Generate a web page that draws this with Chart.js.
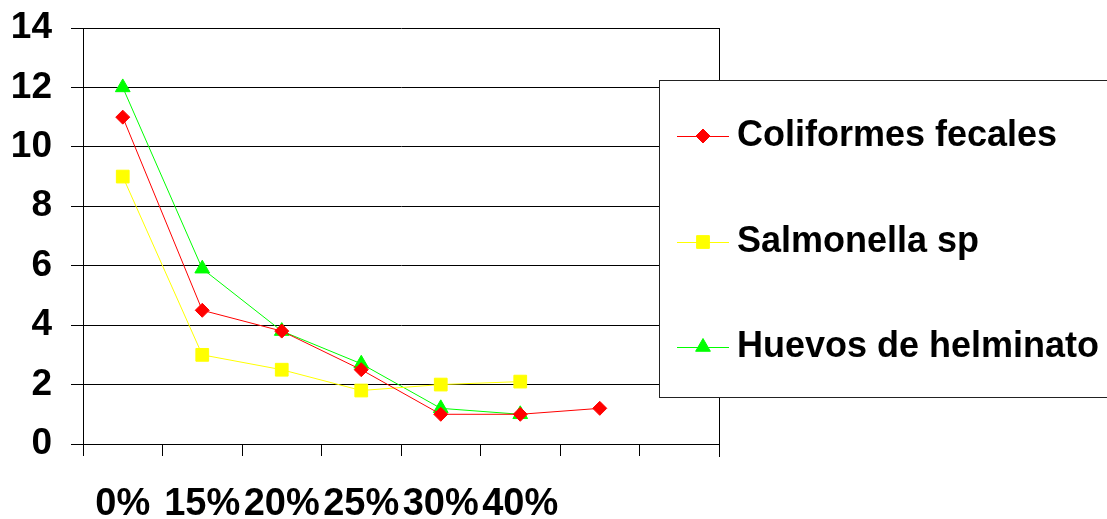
<!DOCTYPE html>
<html>
<head>
<meta charset="utf-8">
<script src="https://cdn.jsdelivr.net/npm/chart.js@4.4.0/dist/chart.umd.min.js"></script>
<style>
    body { margin: 0; background: #fff; }
    #wrap { width: 1107px; height: 519px; position: relative; }
</style>
</head>
<body>
<div id="wrap"><canvas id="chart"></canvas></div>
<script>
const categories = ['0%', '15%', '20%', '25%', '30%', '40%', '', ''];
const coliformes = [11, 4.5, 3.8, 2.5, 1.0, 1.0, 1.2, null];
const salmonella = [9, 3, 2.5, 1.8, 2.0, 2.1, null, null];
const huevos = [12, 5.9, 3.8, 2.7, 1.2, 1.0, null, null];
const yTicks = [0, 2, 4, 6, 8, 10, 12, 14];

Chart.defaults.font.family = "'Liberation Sans', Arial, sans-serif";
Chart.defaults.font.size = 36;
Chart.defaults.font.weight = 'bold';
Chart.defaults.color = '#000';

// right border of the plot + boxed legend on the right
const frameAndLegend = {
    id: 'frameAndLegend',
    afterDraw(chart) {
        const ctx = chart.ctx;
        const area = chart.chartArea;
        ctx.save();
        ctx.strokeStyle = '#000';
        ctx.lineWidth = 1;
        ctx.beginPath();
        ctx.moveTo(Math.round(area.right) + 0.5, area.top);
        ctx.lineTo(Math.round(area.right) + 0.5, area.bottom + 13);
        ctx.stroke();

        const box = { left: 659.5, top: 80.5, right: 1112, bottom: 397.5 };
        ctx.fillStyle = '#fff';
        ctx.fillRect(box.left, box.top, box.right - box.left, box.bottom - box.top);
        ctx.strokeStyle = '#222';
        ctx.strokeRect(box.left, box.top, box.right - box.left, box.bottom - box.top);

        const rows = [136, 242, 347];
        chart.data.datasets.forEach((ds, i) => {
            const y = rows[i];
            ctx.strokeStyle = ds.borderColor;
            ctx.lineWidth = 1;
            ctx.beginPath();
            ctx.moveTo(677, y + 0.5);
            ctx.lineTo(729, y + 0.5);
            ctx.stroke();
            ctx.fillStyle = ds.pointBackgroundColor;
            ctx.strokeStyle = ds.pointBorderColor;
            Chart.helpers.drawPoint(ctx, {
                pointStyle: ds.pointStyle,
                radius: ds.pointRadius,
                rotation: 0,
                borderWidth: 1
            }, 703, y);
            ctx.fillStyle = '#000';
            ctx.font = "bold 36px 'Liberation Sans', Arial, sans-serif";
            ctx.textBaseline = 'middle';
            ctx.textAlign = 'left';
            ctx.fillText(ds.label, 737, y);
        });
        ctx.restore();
    }
};

new Chart(document.getElementById('chart'), {
    type: 'line',
    data: {
        labels: categories,
        datasets: [
            {
                label: 'Coliformes fecales',
                data: coliformes,
                borderColor: '#ff0000',
                borderWidth: 1,
                pointStyle: 'rectRot',
                pointRadius: 7,
                pointBackgroundColor: '#ff0000',
                pointBorderColor: '#ff0000',
                pointBorderWidth: 1,
                fill: false
            },
            {
                label: 'Salmonella sp',
                data: salmonella,
                borderColor: '#ffff00',
                borderWidth: 1,
                pointStyle: 'rect',
                pointRadius: 9,
                pointBackgroundColor: '#ffff00',
                pointBorderColor: '#ffff00',
                pointBorderWidth: 1,
                fill: false
            },
            {
                label: 'Huevos de helminato',
                data: huevos,
                borderColor: '#00ff00',
                borderWidth: 1,
                pointStyle: 'triangle',
                pointRadius: 8.5,
                pointBackgroundColor: '#00ff00',
                pointBorderColor: '#00ff00',
                pointBorderWidth: 1,
                fill: false
            }
        ]
    },
    options: {
        responsive: true,
        maintainAspectRatio: false,
        animation: false,
        spanGaps: false,
        layout: { padding: { left: 0, top: 28, right: 388, bottom: 0 } },
        plugins: {
            legend: { display: false },
            tooltip: { enabled: false }
        },
        scales: {
            x: {
                offset: true,
                grid: {
                    offset: true,
                    drawOnChartArea: false,
                    drawTicks: true,
                    tickLength: 12,
                    color: '#000',
                    lineWidth: 1
                },
                border: { color: '#000', width: 1 },
                ticks: { autoSkip: false, maxRotation: 0, minRotation: 0, padding: 26, font: { size: 38 } },
                afterFit: (scale) => {
                    scale.height = 75;
                    scale.paddingLeft = 0;
                    scale.paddingRight = 0;
                }
            },
            y: {
                min: 0,
                max: 14,
                afterBuildTicks: (scale) => { scale.ticks = yTicks.map(v => ({ value: v })); },
                grid: { color: '#000', lineWidth: 1, tickLength: 12 },
                border: { color: '#000', width: 1 },
                ticks: { padding: 19, font: { size: 37 } },
                afterFit: (scale) => {
                    scale.width = 83;
                    scale.paddingTop = 0;
                    scale.paddingBottom = 0;
                }
            }
        }
    },
    plugins: [frameAndLegend]
});
</script>
</body>
</html>
